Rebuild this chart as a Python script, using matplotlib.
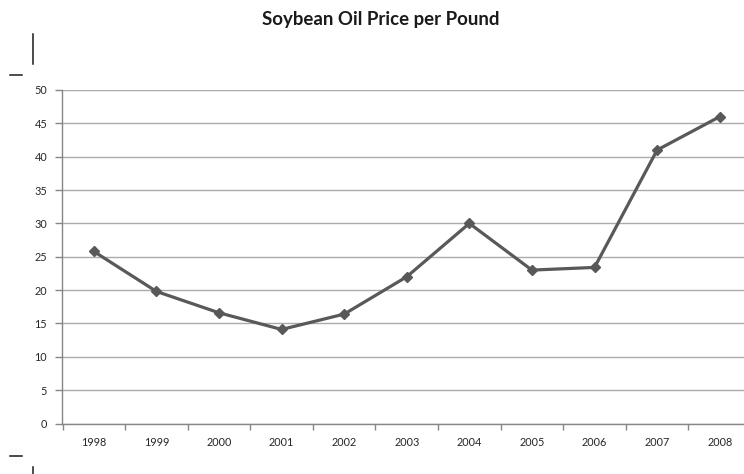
import matplotlib
matplotlib.use("Agg")
import matplotlib.pyplot as plt
from matplotlib.lines import Line2D
import numpy as np

years = ["1998", "1999", "2000", "2001", "2002", "2003", "2004", "2005", "2006", "2007", "2008"]
prices = [25.8, 19.8, 16.6, 14.1, 16.4, 22.0, 30.0, 23.0, 23.4, 41.0, 46.0]
y_ticks = [0, 5, 10, 15, 20, 25, 30, 35, 40, 45, 50]

W, H = 744, 474
fig = plt.figure(figsize=(W / 100, H / 100), dpi=100)

# plot area in pixel coordinates (extends slightly past the right edge)
left, right, top, bottom = 62.5, 751.0, 90.0, 423.5
ax = fig.add_axes([left / W, 1 - bottom / H, (right - left) / W, (bottom - top) / H])

x = np.arange(len(years))
ax.plot(x, prices, color="#595959", lw=2.3, marker="D", ms=5.5,
        markerfacecolor="#595959", markeredgecolor="#595959", zorder=3,
        clip_on=False)

ax.set_xlim(-0.5, len(years) - 0.5)
ax.set_ylim(0, 50)

ax.set_yticks(y_ticks)
ax.set_yticklabels([str(v) for v in y_ticks])
ax.yaxis.grid(True, color="#ababab", lw=1.0)
ax.set_axisbelow(True)

# category axis: labels centred in slots, ticks on slot boundaries
ax.set_xticks(x)
ax.set_xticklabels(years)
ax.set_xticks(np.arange(-0.5, len(years)), minor=True)
ax.tick_params(axis="x", which="major", length=0, pad=10)
ax.tick_params(axis="x", which="minor", length=4, color="#868686", width=1, direction="out")

ax.tick_params(axis="y", length=5, color="#868686", width=1, pad=6)
for lbl in ax.get_xticklabels() + ax.get_yticklabels():
    lbl.set_fontsize(7.8)
    lbl.set_color("#262626")
    lbl.set_family("Lato")

for s in ["top", "right"]:
    ax.spines[s].set_visible(False)
for s in ["left", "bottom"]:
    ax.spines[s].set_color("#868686")
    ax.spines[s].set_linewidth(1)

fig.text(381 / W, 1 - 19 / H, "Soybean Oil Price per Pound", ha="center", va="center",
         fontsize=13.4, fontweight="bold", family="Lato", color="#1a1a1a")

# small registration marks at the page corners
def px_line(x0, y0, x1, y1):
    fig.add_artist(Line2D([x0 / W, x1 / W], [1 - y0 / H, 1 - y1 / H],
                          transform=fig.transFigure, color="#1a1a1a", lw=1.1))

px_line(32.5, 34, 32.5, 64)
px_line(10, 74.5, 22, 74.5)
px_line(10, 456, 22, 456)
px_line(32.5, 466.5, 32.5, 474)

fig.savefig("out.png", dpi=100)
